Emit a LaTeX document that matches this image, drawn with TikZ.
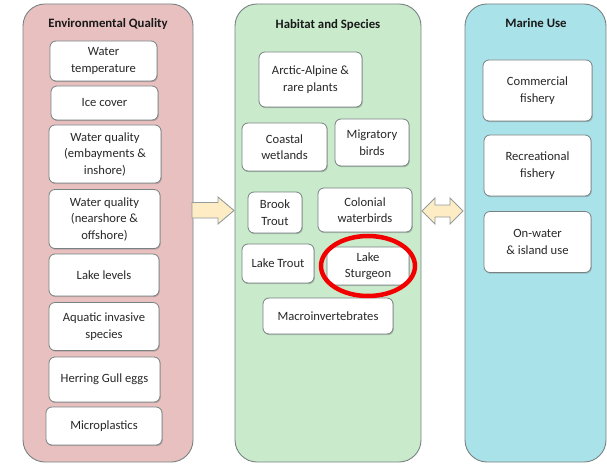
\documentclass[tikz,border=0pt]{standalone}
\usepackage{fontspec}
\setmainfont{Carlito}
\usetikzlibrary{shadows}
\definecolor{envfill}{RGB}{233,192,192}
\definecolor{habfill}{RGB}{201,235,204}
\definecolor{marfill}{RGB}{170,226,233}
\definecolor{arrfill}{RGB}{253,236,196}
\definecolor{edge}{RGB}{120,130,130}
\definecolor{txt}{RGB}{40,40,40}
\tikzset{
  panel/.style={draw=edge, line width=0.9pt, rounded corners=22pt, inner sep=0pt},
  ptitle/.style={font=\fontsize{12.8}{14}\selectfont\bfseries, text=black!90},
  item/.style={draw=edge, line width=0.8pt, fill=white, rounded corners=6pt, inner sep=0pt,
    align=center, text=txt, font=\fontsize{12.6}{16.5}\selectfont,
    drop shadow={shadow xshift=0.8pt, shadow yshift=-1.2pt, opacity=0.35, fill=black!60}},
  blockarrow/.style={draw=edge!80, line width=0.9pt, fill=arrfill, line join=miter},
  ring/.style={draw=red!95!black, line width=4.5pt}
}
\begin{document}
\begin{tikzpicture}[x=1pt,y=-1pt]
\useasboundingbox (0,0) rectangle (607,465);
% panels
\node[panel, fill=envfill, minimum width=170pt, minimum height=458pt] (env) at (108,233) {};
\node[panel, fill=habfill, minimum width=186pt, minimum height=458pt] (hab) at (328,233) {};
\node[panel, fill=marfill, minimum width=141pt, minimum height=458pt] (mar) at (535.5,233) {};
\node[ptitle] (tenv) at (108,24) {Environmental Quality};
\node[ptitle] (thab) at (328,25) {Habitat and Species};
\node[ptitle] (tmar) at (536,23) {Marine Use};
% left items
\node[item, minimum width=107pt, minimum height=40pt] (e1) at (103.5,61) {Water\\temperature};
\node[item, minimum width=107pt, minimum height=34pt] (e2) at (104.5,103) {Ice cover};
\node[item, minimum width=112pt, minimum height=58pt] (e3) at (105,154) {Water quality\\(embayments \&\\inshore)};
\node[item, minimum width=111pt, minimum height=59pt] (e4) at (104.5,219) {Water quality\\(nearshore \&\\offshore)};
\node[item, minimum width=110pt, minimum height=42pt] (e5) at (104,275) {Lake levels};
\node[item, minimum width=110pt, minimum height=48pt] (e6) at (104,326.5) {Aquatic invasive\\species};
\node[item, minimum width=111pt, minimum height=45pt] (e7) at (104.5,379.5) {Herring Gull eggs};
\node[item, minimum width=116pt, minimum height=38pt] (e8) at (104,426) {Microplastics};
% middle items
\node[item, minimum width=103pt, minimum height=55pt] (h1) at (310.5,79.5) {Arctic-Alpine \&\\rare plants};
\node[item, minimum width=85pt, minimum height=48pt] (h2) at (284.5,147) {Coastal\\wetlands};
\node[item, minimum width=74pt, minimum height=47pt] (h3) at (372,142.5) {Migratory\\birds};
\node[item, minimum width=54pt, minimum height=41pt] (h4) at (275,212.5) {Brook\\Trout};
\node[item, minimum width=94pt, minimum height=44pt] (h5) at (365,210) {Colonial\\waterbirds};
\node[item, minimum width=72pt, minimum height=39pt] (h6) at (278,263.5) {Lake Trout};
\node[item, minimum width=82pt, minimum height=38pt] (h7) at (368,266) {Lake\\Sturgeon};
\node[item, minimum width=130pt, minimum height=36pt] (h8) at (328,316) {Macroinvertebrates};
% right items
\node[item, minimum width=109pt, minimum height=61pt] (m1) at (537.5,90.5) {Commercial\\fishery};
\node[item, minimum width=107pt, minimum height=61pt] (m2) at (537.5,165.5) {Recreational\\fishery};
\node[item, minimum width=107pt, minimum height=61pt] (m3) at (537.5,242) {On-water\\\& island use};
% highlight ring
\draw[ring] (h7.center) ellipse [x radius=47pt, y radius=30pt];
% block arrows
\draw[blockarrow] (192,202.5) -- (218,202.5) -- (218,197) -- (234,210.5) -- (218,224) -- (218,218) -- (192,218) -- cycle;
\draw[blockarrow] (422,211) -- (435,198) -- (435,205) -- (450,205) -- (450,198) -- (463,211)
  -- (450,224) -- (450,217) -- (435,217) -- (435,224) -- cycle;
\end{tikzpicture}
\end{document}
